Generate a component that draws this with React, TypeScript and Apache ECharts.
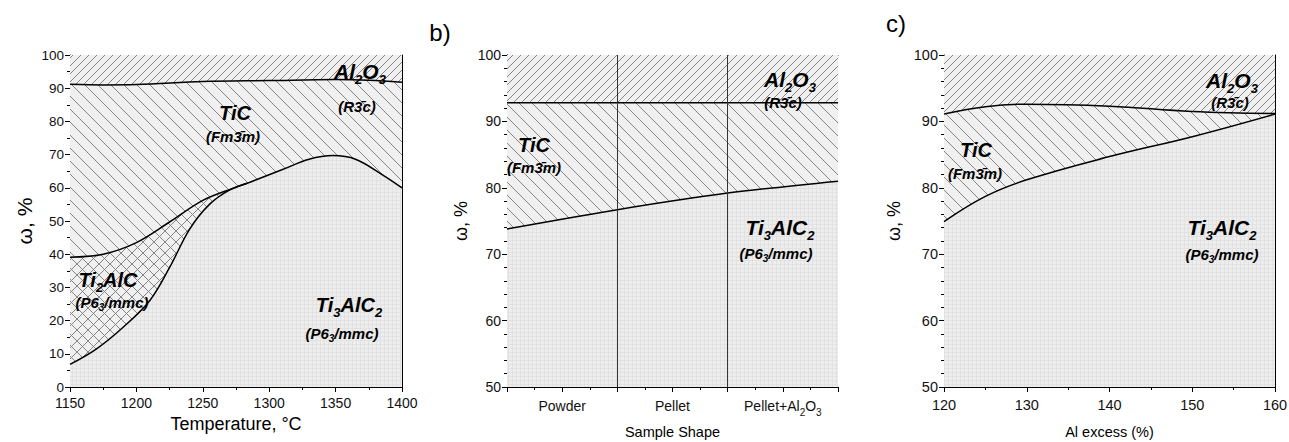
import React, { useEffect, useRef } from "react";
import * as echarts from "echarts";

// ---------- data ----------
// Panel a (temperature)
const aXRange = [1150, 1400];
const aTiCTopX = [1150, 1175, 1200, 1250, 1300, 1350, 1375, 1400];
const aTiCTopY = [91.2, 91.0, 91.1, 92.0, 92.3, 92.6, 92.4, 91.8];
const aTi2AlCTopX = [1150, 1175, 1200, 1225, 1250, 1273, 1283];
const aTi2AlCTopY = [39.1, 40.0, 43.5, 49.7, 56.2, 59.9, 61.3];
const aTi3AlC2TopX = [1150, 1170, 1190, 1210, 1225, 1240, 1255, 1270, 1285, 1310, 1330, 1348, 1365, 1385, 1400];
const aTi3AlC2TopY = [6.8, 11.5, 18, 26, 36, 47.5, 55, 59.3, 61.6, 65.5, 68.6, 69.7, 68.6, 64, 60];

// Panel b (sample shape)
const bCategories = ["Powder", "Pellet", "Pellet+Al2O3"];
const bX = [0, 1, 2, 3];
const bTiCTopY = [92.8, 92.8, 92.8, 92.8];
const bTi3AlC2TopY = [73.8, 76.7, 79.2, 81.0];

// Panel c (Al excess)
const cX = [120, 125, 130, 140, 150, 160];
const cTiCTopY = [91.1, 92.2, 92.6, 92.3, 91.5, 91.2];
const cTi3AlC2TopY = [74.9, 78.7, 81.2, 84.7, 87.7, 91.1];

const FONT = "'Liberation Sans', Arial, sans-serif";

function zip(xs: number[], ys: number[]) {
  return xs.map((x, i) => [x, ys[i]]);
}

function makePattern(kind: string) {
  const c = document.createElement("canvas");
  const bg = "#f0f0f0";
  const lc = "#858585";
  let s = 8;
  if (kind === "slash") s = 8;
  if (kind === "back") s = 13;
  if (kind === "cross") s = 11;
  if (kind === "grid") s = 4;
  c.width = s;
  c.height = s;
  const g = c.getContext("2d")!;
  if (kind === "grid") {
    g.fillStyle = "#ededed";
    g.fillRect(0, 0, s, s);
    g.fillStyle = "#e2e2e2";
    g.fillRect(0, 0, s, 1);
    g.fillRect(0, 0, 1, s);
    return c;
  }
  g.fillStyle = bg;
  g.fillRect(0, 0, s, s);
  g.strokeStyle = lc;
  g.lineWidth = 1;
  const slash = () => {
    for (const o of [-s, 0, s]) {
      g.beginPath();
      g.moveTo(o - 1, s + 1);
      g.lineTo(o + s + 1, -1);
      g.stroke();
    }
  };
  const back = () => {
    for (const o of [-s, 0, s]) {
      g.beginPath();
      g.moveTo(o - 1, -1);
      g.lineTo(o + s + 1, s + 1);
      g.stroke();
    }
  };
  if (kind === "slash") slash();
  if (kind === "back") back();
  if (kind === "cross") {
    slash();
    back();
  }
  return c;
}

export default function App() {
  const ref = useRef<HTMLDivElement>(null);
  useEffect(() => {
    const chart = echarts.init(ref.current!, null, { renderer: "svg" });
    const pat = (k: string) => ({ image: makePattern(k), repeat: "repeat" } as any);
    const pSlash = pat("slash");
    const pBack = pat("back");
    const pCross = pat("cross");
    const pGrid = pat("grid");

    const grids = [
      { left: 70, top: 55, width: 332, height: 332, outerBoundsMode: "none", containLabel: false },
      { left: 507, top: 55, width: 331, height: 332, outerBoundsMode: "none", containLabel: false },
      { left: 944, top: 55, width: 331, height: 332, outerBoundsMode: "none", containLabel: false },
    ];

    const axisLine = { show: true, lineStyle: { color: "#000", width: 1 } };
    const tick = { show: true, inside: false, length: 5, lineStyle: { color: "#000" } };

    const xBottom = (i: number, cfg: any) => ({
      gridIndex: i,
      type: "value",
      position: "bottom",
      axisLine,
      axisTick: tick,
      minorTick: { show: true, splitNumber: 2, length: 3, lineStyle: { color: "#000" } },
      splitLine: { show: false },
      nameLocation: "middle",
      nameTextStyle: { color: "#000", fontFamily: FONT },
      ...cfg,
      axisLabel: { color: "#111", fontFamily: FONT, formatter: (v: number) => String(v), ...(cfg.axisLabel || {}) },
    });
    const yLeft = (i: number, cfg: any) => ({
      gridIndex: i,
      type: "value",
      position: "left",
      axisLine,
      axisTick: tick,
      splitLine: { show: false },
      nameLocation: "middle",
      nameRotate: 90,
      name: "ω, %",
      nameTextStyle: { color: "#000", fontFamily: FONT },
      ...cfg,
      axisLabel: { color: "#111", fontFamily: FONT, margin: 6, ...(cfg.axisLabel || {}) },
    });
    const frameX = (i: number, min: number, max: number) => ({
      gridIndex: i, type: "value", position: "top", min, max,
      axisLine, axisTick: { show: false }, axisLabel: { show: false }, splitLine: { show: false },
    });
    const frameY = (i: number, min: number, max: number) => ({
      gridIndex: i, type: "value", position: "right", min, max,
      axisLine, axisTick: { show: false }, axisLabel: { show: false }, splitLine: { show: false },
    });

    const area = (name: string, data: number[][], xi: number, color: any, lineW: number, smooth: any, extra: any = {}) => ({
      name,
      type: "line",
      xAxisIndex: xi,
      yAxisIndex: xi,
      data,
      smooth,
      symbol: "none",
      silent: true,
      lineStyle: { color: "#000", width: lineW },
      areaStyle: { color, opacity: 1, origin: "start" },
      ...extra,
    });

    const txt = (x: number, y: number, text: string, big: number, small: number) => ({
      type: "text",
      x,
      y,
      z: 100,
      style: {
        text,
        align: "center",
        verticalAlign: "middle",
        rich: {
          m: { fontSize: big, fontWeight: "bold", fontStyle: "italic", fontFamily: FONT, fill: "#000", lineHeight: big, verticalAlign: "top" },
          s: { fontSize: small, fontWeight: "bold", fontStyle: "italic", fontFamily: FONT, fill: "#000", lineHeight: small, padding: [Math.round(big * 0.55), 0, 0, 0], verticalAlign: "top" },
        },
      },
    });

    const option: any = {
      animation: false,
      backgroundColor: "#fff",
      grid: grids,
      xAxis: [
        xBottom(0, {
          min: aXRange[0], max: aXRange[1], interval: 50,
          name: "Temperature, °C", nameGap: 25,
          nameTextStyle: { fontSize: 18, color: "#000", fontFamily: FONT },
          axisLabel: { fontSize: 14, margin: 9 },
        }),
        xBottom(1, {
          min: 0, max: 3, interval: 0.5,
          name: "Sample Shape", nameGap: 37,
          nameTextStyle: { fontSize: 14.5, color: "#000", fontFamily: FONT },
          axisLabel: {
            fontSize: 14,
            margin: 12,
            formatter: (v: number) => {
              const k = Math.floor(v);
              if (Math.abs(v - k - 0.5) > 1e-6 || k > 2) return "";
              const name = bCategories[k];
              if (name === "Pellet+Al2O3") return "{a|Pellet+Al}{s|2}{a|O}{s|3}";
              return "{a|" + name + "}";
            },
            rich: {
              a: { fontSize: 14, fontFamily: FONT, color: "#111", lineHeight: 16, verticalAlign: "top" },
              s: { fontSize: 10, fontFamily: FONT, color: "#111", lineHeight: 10, padding: [8, 0, 0, 0], verticalAlign: "top" },
            },
          },
        }),
        xBottom(2, {
          min: 120, max: 160, interval: 10,
          name: "Al excess (%)", nameGap: 37,
          nameTextStyle: { fontSize: 14.5, color: "#000", fontFamily: FONT },
          axisLabel: { fontSize: 14.5, margin: 10 },
        }),
        frameX(0, aXRange[0], aXRange[1]),
        frameX(1, 0, 3),
        frameX(2, 120, 160),
      ],
      yAxis: [
        yLeft(0, {
          min: 0, max: 100, interval: 10, nameGap: 35,
          minorTick: { show: true, splitNumber: 2, length: 3, lineStyle: { color: "#000" } },
          nameTextStyle: { fontSize: 21, color: "#000", fontFamily: FONT },
          axisLabel: { fontSize: 13.5 },
        }),
        yLeft(1, {
          min: 50, max: 100, interval: 10, nameGap: 37,
          minorTick: { show: true, splitNumber: 5, length: 3, lineStyle: { color: "#000" } },
          nameTextStyle: { fontSize: 18, color: "#000", fontFamily: FONT },
          axisLabel: { fontSize: 14 },
        }),
        yLeft(2, {
          min: 50, max: 100, interval: 10, nameGap: 41,
          minorTick: { show: true, splitNumber: 5, length: 3, lineStyle: { color: "#000" } },
          nameTextStyle: { fontSize: 18, color: "#000", fontFamily: FONT },
          axisLabel: { fontSize: 14.5 },
        }),
        frameY(0, 0, 100),
        frameY(1, 50, 100),
        frameY(2, 50, 100),
      ],
      series: [
        // panel a
        area("Al2O3 a", [[aXRange[0], 100], [aXRange[1], 100]], 0, pSlash, 0, false),
        area("TiC a", zip(aTiCTopX, aTiCTopY), 0, pBack, 1.5, 0.35),
        area("Ti2AlC a", zip(aTi2AlCTopX, aTi2AlCTopY), 0, pCross, 1.5, 0.35),
        area("Ti3AlC2 a", zip(aTi3AlC2TopX, aTi3AlC2TopY), 0, pGrid, 1.5, 0.35),
        // panel b
        area("Al2O3 b", [[0, 100], [3, 100]], 1, pSlash, 0, false),
        area("TiC b", zip(bX, bTiCTopY), 1, pBack, 1.5, false),
        area("Ti3AlC2 b", zip(bX, bTi3AlC2TopY), 1, pGrid, 1.5, 0.3, {
          markLine: {
            silent: true,
            symbol: "none",
            label: { show: false },
            lineStyle: { color: "#333", width: 1, type: "solid" },
            data: [{ xAxis: 1 }, { xAxis: 2 }],
          },
        }),
        // panel c
        area("Al2O3 c", [[120, 100], [160, 100]], 2, pSlash, 0, false),
        area("TiC c", zip(cX, cTiCTopY), 2, pBack, 1.5, 0.4),
        area("Ti3AlC2 c", zip(cX, cTi3AlC2TopY), 2, pGrid, 1.5, 0.4),
      ],
      graphic: [
        { type: "text", x: 440, y: 32, style: { text: "b)", fontSize: 24, fontFamily: FONT, fill: "#000", align: "center", verticalAlign: "middle" } },
        { type: "text", x: 896, y: 23, style: { text: "c)", fontSize: 24, fontFamily: FONT, fill: "#000", align: "center", verticalAlign: "middle" } },
        // panel a
        txt(360, 71, "{m|Al}{s|2}{m|O}{s|3}", 21, 13),
        txt(357, 106, "{m|(R3\u0304c)}", 15, 10),
        txt(235, 113, "{m|TiC}", 20, 13),
        txt(233, 136, "{m|(Fm3\u0304m)}", 15, 10),
        txt(108, 280, "{m|Ti}{s|2}{m|AlC}", 20, 13),
        txt(112, 302, "{m|(P6}{s|3}{m|/mmc)}", 15, 10),
        txt(349, 305, "{m|Ti}{s|3}{m|AlC}{s|2}", 20, 13),
        txt(342, 333, "{m|(P6}{s|3}{m|/mmc)}", 15, 10),
        // panel b
        txt(790, 79, "{m|Al}{s|2}{m|O}{s|3}", 21, 13),
        txt(783, 102, "{m|(R3\u0304c)}", 15, 10),
        txt(534, 145, "{m|TiC}", 20, 13),
        txt(534, 167, "{m|(Fm3\u0304m)}", 15, 10),
        txt(780, 227, "{m|Ti}{s|3}{m|AlC}{s|2}", 21, 13),
        txt(776, 253, "{m|(P6}{s|3}{m|/mmc)}", 15, 10),
        // panel c
        txt(1232, 80, "{m|Al}{s|2}{m|O}{s|3}", 21, 13),
        txt(1230, 102, "{m|(R3\u0304c)}", 15, 10),
        txt(976, 150, "{m|TiC}", 20, 13),
        txt(975, 173, "{m|(Fm3\u0304m)}", 15, 10),
        txt(1222, 227, "{m|Ti}{s|3}{m|AlC}{s|2}", 21, 13),
        txt(1222, 254, "{m|(P6}{s|3}{m|/mmc)}", 15, 10),
      ],
    };
    chart.setOption(option);
    return () => chart.dispose();
  }, []);
  return <div ref={ref} style={{ position: "fixed", left: 0, top: 0, width: 1289, height: 442 }} />;
}
